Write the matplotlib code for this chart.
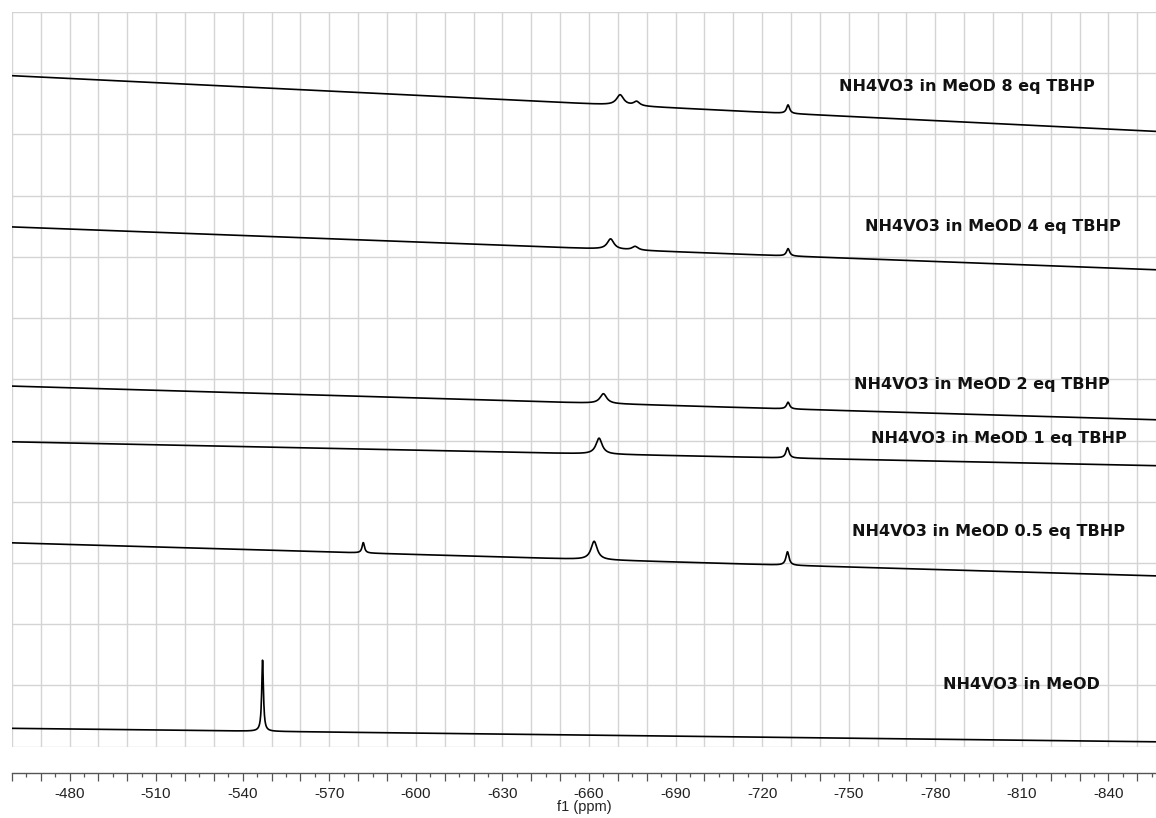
import numpy as np
import matplotlib.pyplot as plt
from matplotlib.ticker import MultipleLocator, FuncFormatter

plt.rcParams['axes.unicode_minus'] = False

# Spectrum labels, top to bottom
labels = ['NH4VO3 in MeOD 8 eq TBHP', 'NH4VO3 in MeOD 4 eq TBHP',
          'NH4VO3 in MeOD 2 eq TBHP', 'NH4VO3 in MeOD 1 eq TBHP',
          'NH4VO3 in MeOD 0.5 eq TBHP', 'NH4VO3 in MeOD']

# Baseline level (stack units) at -460 ppm and at -856.5 ppm
base_left = [10.96, 8.49, 5.89, 4.98, 3.33, 0.30]
base_right = [10.05, 7.79, 5.34, 4.59, 2.79, 0.08]

# Peaks: position (ppm), height, FWHM (ppm)
peak_pos = [[-670.8, -676.5, -729.0],
            [-667.5, -676.0, -729.0],
            [-665.0, -729.0],
            [-663.5, -728.8],
            [-581.8, -661.8, -728.8],
            [-546.9]]
peak_height = [[0.17, 0.07, 0.14],
               [0.17, 0.06, 0.12],
               [0.16, 0.11],
               [0.26, 0.17],
               [0.17, 0.30, 0.22],
               [1.18]]
peak_fwhm = [[3.0, 2.5, 1.3],
             [2.8, 2.5, 1.3],
             [2.8, 1.3],
             [2.6, 1.3],
             [1.0, 2.6, 1.3],
             [0.7]]

# label placement (ppm of left edge, y in stack units)
label_x = [-746.8, -755.8, -751.7, -757.9, -751.0, -782.8]
label_y = [10.78, 8.49, 5.91, 5.04, 3.51, 1.02]

x_left, x_right = -460.0, -856.5
ppm = np.linspace(x_left, x_right, 4000)

fig = plt.figure(figsize=(11.56, 8.18), dpi=100)
ax = fig.add_axes([11.8 / 1156, (818 - 746.7) / 818, 1 - 11.8 / 1156, (746.7 - 12) / 818])

for i in range(len(labels)):
    # straight baseline between the two read ends
    frac = (ppm - x_left) / (x_right - x_left)
    y = base_left[i] + (base_right[i] - base_left[i]) * frac
    for p, h, w in zip(peak_pos[i], peak_height[i], peak_fwhm[i]):
        y = y + h / (1 + ((ppm - p) / (w / 2)) ** 2)
    ax.plot(ppm, y, color='black', linewidth=1.2)
    ax.text(label_x[i], label_y[i], labels[i], fontsize=11.5, fontweight='bold',
            family='DejaVu Sans', ha='left', va='center', color='#111111')

ax.set_xlim(x_left, x_right)
ax.set_ylim(0, 12)

# grid: every 10 ppm vertically, 12 rows horizontally
ax.set_yticks(np.arange(0, 13, 1))
ax.tick_params(axis='y', left=False, labelleft=False)
ax.xaxis.set_major_locator(MultipleLocator(10))
ax.xaxis.set_minor_locator(MultipleLocator(5))
ax.xaxis.set_major_formatter(FuncFormatter(lambda v, pos: '%d' % round(v) if round(v) % 30 == 0 else ''))
ax.grid(True, which='major', color='#d4d4d4', linewidth=1.0)
ax.set_axisbelow(True)

for s in ['left', 'right', 'top']:
    ax.spines[s].set_visible(False)
ax.spines['bottom'].set_position(('outward', 18.7))
ax.spines['bottom'].set_color('#555555')
ax.spines['bottom'].set_linewidth(1.0)

ax.tick_params(axis='x', which='major', direction='out', length=5.8, width=0.9,
               color='#555555', pad=4.5, labelsize=11, labelcolor='#222222')
ax.tick_params(axis='x', which='minor', direction='out', length=3.2, width=0.9, color='#555555')
for t in ax.get_xticklabels():
    t.set_family('Liberation Sans')

ax.set_xlabel('f1 (ppm)', fontsize=10.5, family='Liberation Sans', color='#222222', labelpad=-1)

fig.savefig('out.png', dpi=100)
